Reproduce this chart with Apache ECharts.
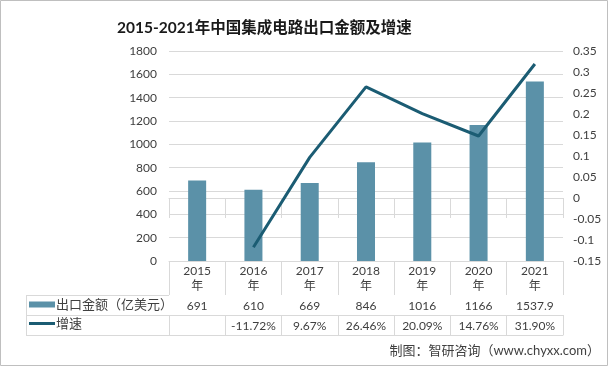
<!DOCTYPE html>
<html><head><meta charset="utf-8">
<script src="https://cdn.jsdelivr.net/npm/echarts@6/dist/echarts.min.js"></script>
<style>html,body{margin:0;padding:0;background:#fff}#c{width:608px;height:366px}</style>
</head><body><div id="c"></div>
<script>
var years = ['2015','2016','2017','2018','2019','2020','2021'];
var exportValues = [691, 610, 669, 846, 1016, 1166, 1537.9];
var growthValues = [null, -0.1172, 0.0967, 0.2646, 0.2009, 0.1476, 0.3190];
var growthLabels = ['', '-11.72%', '9.67%', '26.46%', '20.09%', '14.76%', '31.90%'];
var valueLabels = ['691', '610', '669', '846', '1016', '1166', '1537.9'];
var leftTicks = {min: 0, max: 1800, interval: 200};
var rightTicks = {min: -0.15, max: 0.35, interval: 0.05};

var FONT = "Lato, 'Noto Sans CJK SC', sans-serif";
var TXT = '#404040';
var LINE = '#d9d9d9';
var chart = echarts.init(document.getElementById('c'));
function tableAxis(data, offset, showLine, tickLen, labelMargin) {
  return {
    type: 'category', data: data, position: 'bottom', offset: offset,
    boundaryGap: true,
    axisLine: {show: showLine, lineStyle: {color: LINE, width: 1}},
    axisTick: {show: tickLen > 0, length: tickLen, alignWithLabel: false, interval: 0, lineStyle: {color: LINE}},
    axisLabel: {show: true, interval: 0, margin: labelMargin, color: TXT, fontSize: 12, fontFamily: FONT, lineHeight: 15},
    splitLine: {show: false}
  };
}
var ax0 = tableAxis(years.map(function(y){return y + '\n年';}), 0, true, 34, 3);
var ax1 = tableAxis(valueLabels, 34, true, 20, 4);
var ax2 = tableAxis(growthLabels, 54, true, 20, 4);
var ax3 = tableAxis(years.map(function(){return '';}), 74, true, 0, 4);
ax3.axisLabel.show = false;

chart.setOption({
  backgroundColor: '#fff',
  animation: false,
  title: {
    text: '2015-2021年中国集成电路出口金额及增速',
    left: 112, top: 15,
    textStyle: {fontSize: 15.5, fontWeight: 'bold', color: '#1a1a1a', fontFamily: FONT}
  },
  grid: {left: 169, right: 45, top: 51, bottom: 105, containLabel: false},
  legend: {
    orient: 'vertical', left: 29, top: 298, itemGap: 6, padding: 0,
    itemWidth: 26, itemHeight: 6, symbolKeepAspect: true,
    textStyle: {fontSize: 13, color: TXT, fontFamily: FONT, padding: [0, 0, 0, -4]},
    data: [
      {name: '出口金额（亿美元）', icon: 'rect'},
      {name: '增速', icon: 'path://M0,0 L26,0 L26,3 L0,3 Z', itemStyle: {color: '#1b5c73'}}
    ]
  },
  xAxis: [ax0, ax1, ax2, ax3],
  yAxis: [{
    type: 'value', min: leftTicks.min, max: leftTicks.max, interval: leftTicks.interval,
    axisLine: {show: false}, axisTick: {show: false},
    axisLabel: {color: TXT, fontSize: 12, fontFamily: FONT, margin: 12,
      formatter: function(v){ return String(v); }},
    splitLine: {lineStyle: {color: LINE}}
  }, {
    type: 'value', min: rightTicks.min, max: rightTicks.max, interval: rightTicks.interval,
    axisLine: {show: false}, axisTick: {show: false},
    axisLabel: {color: TXT, fontSize: 12, fontFamily: FONT, margin: 10,
      formatter: function(v){ return String(parseFloat(v.toFixed(2))); }},
    splitLine: {show: false}
  }],
  series: [{
    name: '出口金额（亿美元）', type: 'bar', xAxisIndex: 0, yAxisIndex: 0,
    data: exportValues, barWidth: '32%',
    itemStyle: {color: '#5b91a8'}
  }, {
    name: '增速', type: 'line', xAxisIndex: 0, yAxisIndex: 1,
    data: growthValues, symbol: 'none', connectNulls: false,
    lineStyle: {color: '#1b5c73', width: 3},
    itemStyle: {color: '#1b5c73'}
  }],
  graphic: [
    {type: 'line', shape: {x1: 26, y1: 295.5, x2: 169, y2: 295.5}, style: {stroke: LINE, lineWidth: 1}},
    {type: 'line', shape: {x1: 26, y1: 315.5, x2: 169, y2: 315.5}, style: {stroke: LINE, lineWidth: 1}},
    {type: 'line', shape: {x1: 26, y1: 335.5, x2: 169, y2: 335.5}, style: {stroke: LINE, lineWidth: 1}},
    {type: 'line', shape: {x1: 26.5, y1: 295, x2: 26.5, y2: 336}, style: {stroke: LINE, lineWidth: 1}},
    {type: 'text', right: 8, top: 344,
      style: {text: '制图：智研咨询（www.chyxx.com）', fontSize: 13, fill: '#404040', fontFamily: FONT}},
    {type: 'rect', shape: {x: 0.5, y: 0.5, width: 607, height: 365}, style: {fill: 'none', stroke: '#bfbfbf', lineWidth: 1}}
  ]
});
</script></body></html>
